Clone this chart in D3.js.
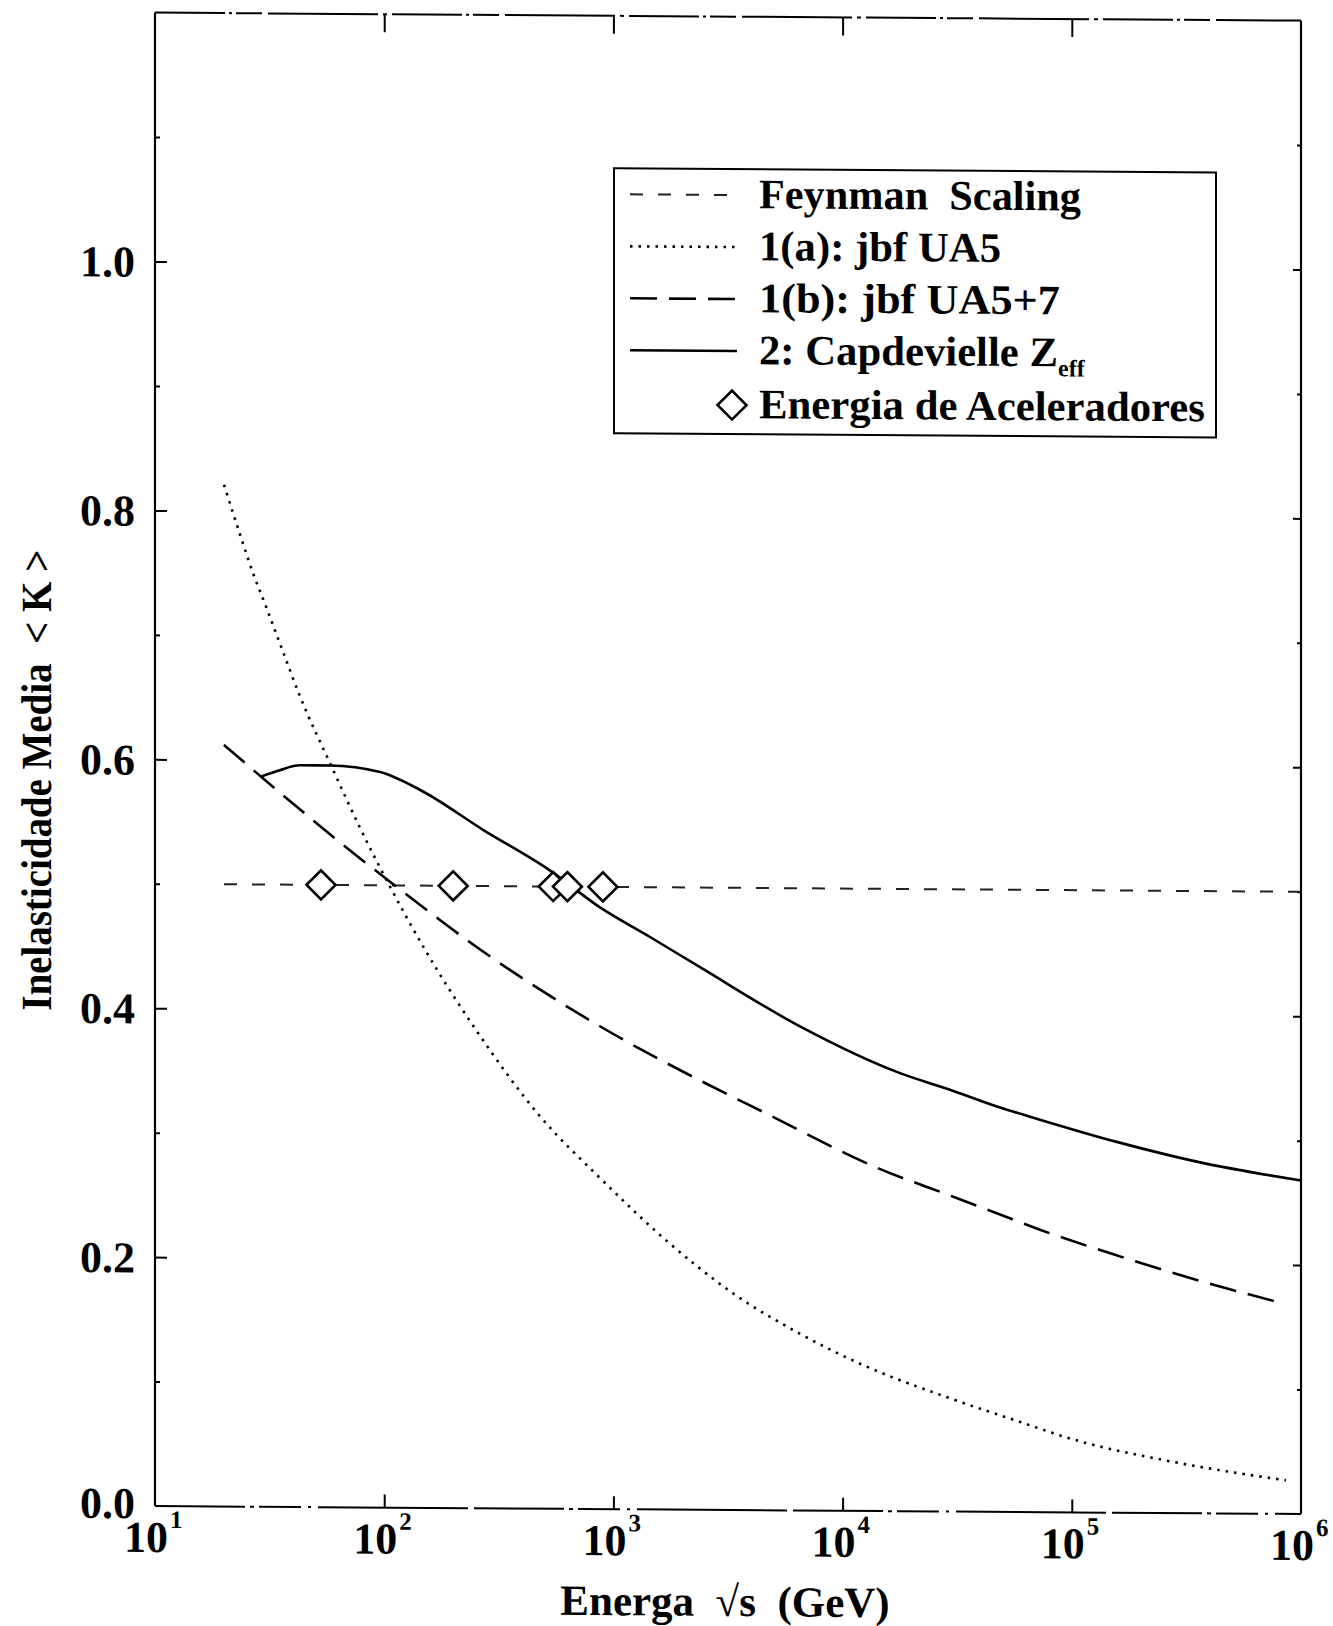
<!DOCTYPE html>
<html>
<head>
<meta charset="utf-8">
<script src="https://cdn.jsdelivr.net/npm/d3@7"></script>
<style>
  html, body { margin: 0; padding: 0; background: #fff; }
  svg { display: block; }
  text { font-family: "Liberation Serif", "Times New Roman", serif; font-weight: bold; fill: #000; white-space: pre; }
</style>
</head>
<body>
<svg id="chart" width="1333" height="1626"></svg>
<script>
// ---- data -------------------------------------------------------------
const xTickExponents = [1, 2, 3, 4, 5, 6];
const yTickValues = [0.0, 0.2, 0.4, 0.6, 0.8, 1.0];
const yTickLabels = ["0.0", "0.2", "0.4", "0.6", "0.8", "1.0"];

// Feynman scaling: constant inelasticity
const feynmanE = [20, 1e6];
const feynmanK = [0.5, 0.5];

// 1(a): jbf UA5
const ua5E = [20, 23.5, 26.8, 30.7, 35.7, 43, 58, 78, 106, 148, 250, 480, 875, 1706, 3334, 6516, 12735, 28400, 56000, 100000, 300000, 860000];
const ua5K = [0.821, 0.781, 0.750, 0.722, 0.690, 0.651, 0.598, 0.547, 0.499, 0.451, 0.385, 0.315, 0.266, 0.216, 0.174, 0.142, 0.116, 0.092, 0.074, 0.059, 0.040, 0.027];

// 1(b): jbf UA5+7
const ua57E = [20, 34, 66.4, 106, 253, 873, 2388, 4508, 14500, 29400, 45500, 72600, 162000, 375000, 840000];
const ua57K = [0.612, 0.576, 0.532, 0.503, 0.451, 0.388, 0.345, 0.320, 0.275, 0.254, 0.241, 0.227, 0.206, 0.186, 0.169];

// 2: Capdevielle Z_eff
const capE = [29.3, 35, 43, 58, 96, 143, 271, 528, 874, 1445, 2388, 6516, 17800, 29400, 48600, 67900, 157000, 363000, 1e6];
const capK = [0.587, 0.592, 0.596, 0.596, 0.591, 0.577, 0.545, 0.513, 0.4835, 0.460, 0.436, 0.389, 0.352, 0.339, 0.325, 0.317, 0.298, 0.282, 0.268];

// accelerator energies (ISR, SPS, SppS, Tevatron)
const accE = [53, 200, 546, 630, 900];
const accK = [0.5, 0.5, 0.5, 0.5, 0.5];

const legendLabels = ["Feynman  Scaling", "1(a): jbf UA5", "1(b): jbf UA5+7", "2: Capdevielle Z", "Energia de Aceleradores"];

// ---- layout -----------------------------------------------------------
const L = 155, R = 1301, T = 12.6, B = 1506;
const shear = 0.007;

const svg = d3.select("#chart");
const root = svg.append("g")
  .attr("transform", `matrix(1,${shear},0,1,0,${-shear * L})`);

const x = d3.scaleLog().domain([10, 1e6]).range([L, R]);
const y = d3.scaleLinear().domain([0, 1.2]).range([B, T]);

// ---- frame & ticks ----------------------------------------------------
const decades = xTickExponents.map(e => Math.pow(10, e));
const yMajor = d3.range(0, 1.201, 0.2);
const yMinor = d3.range(0.1, 1.2, 0.2);

function styleAxis(g) {
  g.select(".domain").remove();
  g.selectAll("line").attr("stroke", "#000").attr("stroke-width", 2);
  g.selectAll("text").remove();
}

root.append("g").attr("transform", `translate(0,${B})`)
  .call(d3.axisBottom(x).tickValues(decades.slice(1, 5)).tickSizeInner(-13).tickSizeOuter(0))
  .call(styleAxis);
root.append("g").attr("transform", `translate(0,${T})`)
  .call(d3.axisTop(x).tickValues(decades.slice(1, 5)).tickSizeInner(-18).tickSizeOuter(0))
  .call(styleAxis);
root.append("g").attr("transform", `translate(${L},0)`)
  .call(d3.axisLeft(y).tickValues(yMajor.slice(1, 6)).tickSizeInner(-12).tickSizeOuter(0))
  .call(styleAxis);
root.append("g").attr("transform", `translate(${L},0)`)
  .call(d3.axisLeft(y).tickValues(yMinor).tickSizeInner(-5).tickSizeOuter(0))
  .call(styleAxis);
root.append("g").attr("transform", `translate(${R},0)`)
  .call(d3.axisRight(y).tickValues(yMajor.slice(1, 6)).tickSizeInner(-8).tickSizeOuter(0))
  .call(styleAxis);
root.append("g").attr("transform", `translate(${R},0)`)
  .call(d3.axisRight(y).tickValues(yMinor).tickSizeInner(-4).tickSizeOuter(0))
  .call(styleAxis);

// frame: solid sides, worn top/bottom rules
const frame = root.append("g").attr("stroke", "#000").attr("fill", "none");
frame.append("line").attr("x1", L).attr("x2", L).attr("y1", T).attr("y2", B).attr("stroke-width", 2.2);
frame.append("line").attr("x1", R).attr("x2", R).attr("y1", T).attr("y2", B).attr("stroke-width", 2.2);
frame.append("line").attr("x1", L).attr("x2", R).attr("y1", T).attr("y2", T)
  .attr("stroke-width", 2).attr("stroke-dasharray", "70,4,3,4,26,6,110,5,4,5");
frame.append("line").attr("x1", L).attr("x2", R).attr("y1", B).attr("y2", B)
  .attr("stroke-width", 2).attr("stroke-dasharray", "90,5,4,5,42,7,3,7,150,6");

// y tick labels
root.append("g").selectAll("text")
  .data(yTickValues)
  .join("text")
  .attr("x", L - 20)
  .attr("y", d => y(d) - (d === 0 ? 3 : 0))
  .attr("dy", "0.35em")
  .attr("text-anchor", "end")
  .attr("font-size", 44)
  .text((d, i) => yTickLabels[i]);

// x tick labels: 10^n
const xl = root.append("g").selectAll("text")
  .data(xTickExponents)
  .join("text")
  .attr("x", d => x(Math.pow(10, d)) - 31)
  .attr("y", B + 46)
  .attr("font-size", 44);
xl.append("tspan").text("10");
xl.append("tspan").attr("font-size", 25).attr("dy", -24).attr("dx", 2).text(d => d);

// axis titles
root.append("text")
  .attr("x", 725).attr("y", 1612)
  .attr("text-anchor", "middle")
  .attr("font-size", 43)
  .text("Energa  \u221As  (GeV)");

root.append("text")
  .attr("transform", "translate(51,781) rotate(-90)")
  .attr("text-anchor", "middle")
  .attr("font-size", 43)
  .attr("textLength", 461)
  .attr("lengthAdjust", "spacingAndGlyphs")
  .text("Inelasticidade Media  < K >");

// ---- curves -----------------------------------------------------------
const line = d3.line()
  .x(d => x(d[0]))
  .y(d => y(d[1]))
  .curve(d3.curveMonotoneX);

const zip = (a, b) => a.map((v, i) => [v, b[i]]);

const styles = {
  feynman: { dash: "13,15", width: 2, color: "#222" },
  ua5:     { dash: "2.5,6", width: 2.6, color: "#000" },
  ua57:    { dash: "27,12", width: 2.6, color: "#000" },
  cap:     { dash: null,    width: 2.6, color: "#000" }
};

function drawCurve(data, s) {
  root.append("path")
    .datum(data)
    .attr("fill", "none")
    .attr("stroke", s.color)
    .attr("stroke-width", s.width)
    .attr("stroke-dasharray", s.dash)
    .attr("d", line);
}

drawCurve(zip(feynmanE, feynmanK), styles.feynman);
drawCurve(zip(ua5E, ua5K), styles.ua5);
drawCurve(zip(ua57E, ua57K), styles.ua57);
drawCurve(zip(capE, capK), styles.cap);

// accelerator points
const diamond = d3.symbol().type(d3.symbolSquare).size(420);
root.append("g").selectAll("path")
  .data(zip(accE, accK))
  .join("path")
  .attr("transform", d => `translate(${x(d[0])},${y(d[1])}) rotate(45)`)
  .attr("d", diamond)
  .attr("fill", "#fff")
  .attr("stroke", "#000")
  .attr("stroke-width", 2.6);

// ---- legend -----------------------------------------------------------
const leg = root.append("g");
leg.append("rect")
  .attr("x", 614).attr("y", 165).attr("width", 602).attr("height", 265)
  .attr("fill", "#fff").attr("stroke", "#000").attr("stroke-width", 2);

const rowBase = [204, 256, 308, 360, 414];
const textLen = [322, 242, 301, 299, 446];
const sampleStyles = [styles.feynman, styles.ua5, styles.ua57, styles.cap];

sampleStyles.forEach((s, i) => {
  leg.append("line")
    .attr("x1", 630).attr("x2", 737)
    .attr("y1", rowBase[i] - 13).attr("y2", rowBase[i] - 13)
    .attr("stroke", s.color)
    .attr("stroke-width", s.width)
    .attr("stroke-dasharray", s.dash);
});

legendLabels.forEach((t, i) => {
  const tx = leg.append("text")
    .attr("x", 759).attr("y", rowBase[i])
    .attr("font-size", 42);
  tx.append("tspan")
    .attr("textLength", textLen[i])
    .attr("lengthAdjust", "spacingAndGlyphs")
    .text(t);
  if (i === 3) {
    tx.append("tspan").attr("font-size", 24).attr("dy", 10).text("eff");
  }
});

leg.append("path")
  .attr("transform", `translate(732,${rowBase[4] - 13}) rotate(45)`)
  .attr("d", diamond)
  .attr("fill", "#fff")
  .attr("stroke", "#000")
  .attr("stroke-width", 2.6);
</script>
</body>
</html>
